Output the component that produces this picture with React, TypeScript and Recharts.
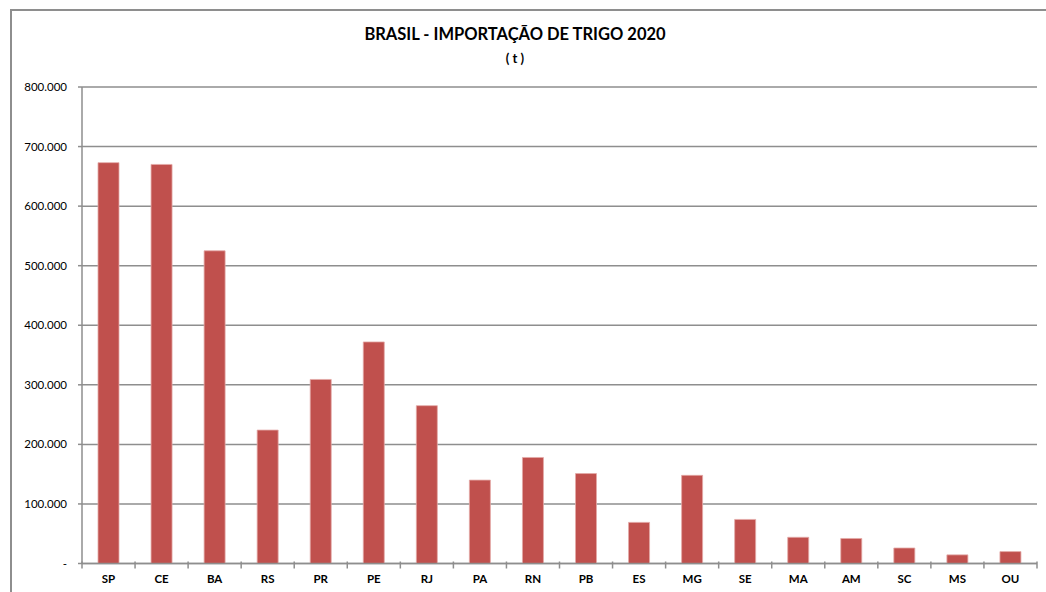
import React from "react";
import { BarChart, Bar, XAxis, YAxis, CartesianGrid } from "recharts";

const states = ["SP", "CE", "BA", "RS", "PR", "PE", "RJ", "PA", "RN", "PB", "ES", "MG", "SE", "MA", "AM", "SC", "MS", "OU"];
const imports2020 = [673000, 670000, 525000, 224000, 309000, 372000, 265000, 140000, 178000, 151000, 69000, 148000, 74000, 44000, 42000, 26000, 14500, 20000];
const yTicks = [0, 100000, 200000, 300000, 400000, 500000, 600000, 700000, 800000];

const data = states.map((s, i) => ({ state: s, value: imports2020[i] }));

const W = 1046;
const H = 592;
const PLOT_LEFT = 82;
const PLOT_RIGHT = 1037;
const HALF_BAND = (PLOT_RIGHT - PLOT_LEFT) / states.length / 2;
const FONT = "Lato, 'Open Sans', sans-serif";
const GRID = "#8e8e8e";

const fmt = (v: number) => (v === 0 ? "-" : String(v).replace(/\B(?=(\d{3})+(?!\d))/g, "."));

const XTick = (props: any) => {
  const { x, y, payload, index } = props;
  const isLast = index === states.length - 1;
  return (
    <g>
      <line x1={x - HALF_BAND} x2={x - HALF_BAND} y1={y - 2} y2={y + 5} stroke={GRID} strokeWidth={1.5} />
      {isLast && (
        <line x1={x + HALF_BAND} x2={x + HALF_BAND} y1={y - 2} y2={y + 5} stroke={GRID} strokeWidth={1.5} />
      )}
      <text x={x} y={y + 19} textAnchor="middle" fontFamily={FONT} fontSize={11.5} fontWeight="bold" fill="#000">
        {payload.value}
      </text>
    </g>
  );
};

export default function App() {
  return (
    <div style={{ position: "absolute", left: 0, top: 0, width: W, height: H, background: "#fff", overflow: "hidden" }}>
      <div
        style={{
          position: "absolute",
          left: 10,
          top: 9,
          width: W,
          height: H,
          borderLeft: `2px solid ${GRID}`,
          borderTop: `2px solid ${GRID}`,
        }}
      />
      <div
        style={{
          position: "absolute",
          left: 0,
          width: 1030,
          top: 23,
          textAlign: "center",
          fontFamily: FONT,
          fontWeight: "bold",
          fontSize: 16.5,
          lineHeight: "22px",
          color: "#000",
        }}
      >
        BRASIL - IMPORTAÇÃO DE TRIGO 2020
        <div style={{ fontSize: 13, lineHeight: "26px" }}>( t )</div>
      </div>
      <div style={{ position: "absolute", left: 0, top: 0 }}>
        <BarChart
          width={W}
          height={H}
          data={data}
          margin={{ top: 87, right: W - PLOT_RIGHT, bottom: 0, left: 22 }}
        >
          <CartesianGrid horizontal={true} vertical={false} stroke={GRID} strokeWidth={1.5} strokeDasharray="" />
          <XAxis
            dataKey="state"
            height={28.5}
            interval={0}
            tickLine={false}
            tickSize={0}
            tickMargin={0}
            axisLine={{ stroke: GRID, strokeWidth: 1.5 }}
            tick={<XTick />}
          />
          <YAxis
            width={60}
            domain={[0, 800000]}
            ticks={yTicks}
            interval={0}
            tickFormatter={fmt}
            tickSize={4}
            tickMargin={11}
            axisLine={{ stroke: GRID, strokeWidth: 1.5 }}
            tickLine={{ stroke: GRID, strokeWidth: 1.5 }}
            tick={{ fontFamily: FONT, fontSize: 11.5, fill: "#000" }}
          />
          <Bar dataKey="value" fill="#c0504d" stroke="#e3a9a7" strokeWidth={0.8} barSize={21} isAnimationActive={false} />
        </BarChart>
      </div>
    </div>
  );
}
